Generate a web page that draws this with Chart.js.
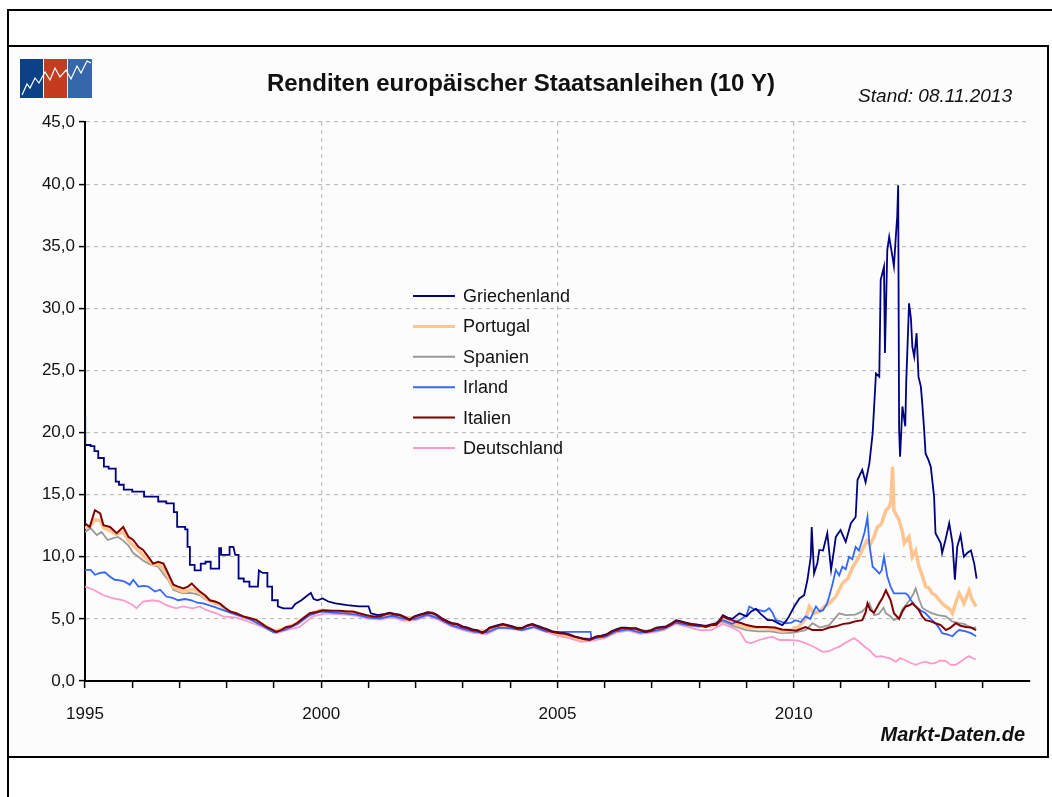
<!DOCTYPE html>
<html lang="de">
<head>
<meta charset="utf-8">
<title>Renditen europäischer Staatsanleihen (10 Y)</title>
<script src="https://cdn.jsdelivr.net/npm/chart.js@4.4.0/dist/chart.umd.min.js"></script>
<style>
html, body { margin: 0; padding: 0; background: #fff; }
#wrap { position: relative; width: 1052px; height: 797px; }
</style>
</head>
<body>
<div id="wrap"><canvas id="renditeChart" width="1052" height="797"></canvas></div>
<script>
// Rendite 10-jähriger Staatsanleihen in %, [Jahr, Wert]
const laender = ["Griechenland", "Portugal", "Spanien", "Irland", "Italien", "Deutschland"];
const labelJahre = [1995, 2000, 2005, 2010];

const griechenland = [
  [1995.00, 21.4], [1995.005, 19.0], [1995.12, 19.0], [1995.12, 18.9], [1995.20, 18.9], [1995.20, 18.5],
  [1995.28, 18.5], [1995.28, 17.95], [1995.40, 17.95], [1995.40, 17.25], [1995.50, 17.25], [1995.50, 17.1],
  [1995.65, 17.1], [1995.65, 16.05], [1995.72, 16.05], [1995.72, 15.8], [1995.82, 15.8], [1995.82, 15.4],
  [1996.00, 15.4], [1996.00, 15.25], [1996.25, 15.25], [1996.25, 14.85], [1996.55, 14.85], [1996.55, 14.45],
  [1996.72, 14.45], [1996.72, 14.3], [1996.88, 14.3], [1996.88, 13.6], [1996.95, 13.6], [1996.95, 12.4],
  [1997.12, 12.4], [1997.12, 12.2], [1997.17, 12.2], [1997.17, 10.8], [1997.22, 10.8], [1997.22, 9.35],
  [1997.32, 9.35], [1997.32, 8.9], [1997.45, 8.9], [1997.45, 9.45], [1997.55, 9.45], [1997.55, 9.6],
  [1997.66, 9.6], [1997.66, 9.05], [1997.84, 9.05], [1997.84, 10.7], [1997.88, 10.7], [1997.88, 10.15],
  [1998.06, 10.15], [1998.06, 10.8], [1998.14, 10.8], [1998.18, 10.15], [1998.25, 10.15], [1998.25, 8.25],
  [1998.36, 8.25], [1998.36, 8.0], [1998.48, 8.0], [1998.48, 7.6], [1998.66, 7.6], [1998.68, 8.9],
  [1998.76, 8.7], [1998.86, 8.7], [1998.86, 7.6], [1998.96, 7.6], [1998.96, 6.5], [1999.08, 6.5],
  [1999.08, 6.0], [1999.20, 5.85], [1999.38, 5.85], [1999.45, 6.2], [1999.58, 6.5], [1999.68, 6.8],
  [1999.78, 7.1], [1999.84, 6.6], [1999.92, 6.5], [2000.03, 6.65], [2000.15, 6.4], [2000.30, 6.25],
  [2000.55, 6.1], [2000.80, 6.0], [2001.00, 6.0], [2001.05, 5.45], [2001.20, 5.3], [2001.35, 5.4],
  [2001.45, 5.5], [2001.55, 5.4], [2001.66, 5.35], [2001.77, 5.15], [2001.87, 4.95], [2001.97, 5.2],
  [2002.08, 5.35], [2002.17, 5.45], [2002.25, 5.55], [2002.35, 5.5], [2002.44, 5.35], [2002.57, 5.0],
  [2002.68, 4.8], [2002.78, 4.65], [2002.88, 4.6], [2002.99, 4.4], [2003.10, 4.3], [2003.20, 4.15],
  [2003.30, 4.1], [2003.41, 3.9], [2003.50, 4.1], [2003.56, 4.3], [2003.70, 4.45], [2003.84, 4.6],
  [2003.95, 4.5], [2004.05, 4.4], [2004.15, 4.25], [2004.26, 4.3], [2004.37, 4.5], [2004.47, 4.6],
  [2004.57, 4.45], [2004.68, 4.3], [2004.79, 4.15], [2004.89, 4.0], [2005.04, 3.9], [2005.15, 3.85],
  [2005.25, 3.75], [2005.36, 3.6], [2005.47, 3.5], [2005.57, 3.4], [2005.68, 3.35], [2005.82, 3.6],
  [2005.93, 3.65], [2006.03, 3.75], [2006.14, 4.0], [2006.24, 4.15], [2006.35, 4.3], [2006.45, 4.3],
  [2006.55, 4.25], [2006.66, 4.25], [2006.77, 4.1], [2006.87, 4.0], [2006.98, 4.1], [2007.09, 4.3],
  [2007.20, 4.35], [2007.30, 4.4], [2007.42, 4.65], [2007.51, 4.9], [2007.62, 4.8], [2007.72, 4.7],
  [2007.83, 4.6], [2007.93, 4.55], [2008.04, 4.5], [2008.14, 4.4], [2008.25, 4.55], [2008.36, 4.6],
  [2008.44, 4.95], [2008.50, 5.3], [2008.60, 5.1], [2008.70, 5.0], [2008.85, 5.45], [2009.00, 5.2],
  [2009.10, 5.6], [2009.20, 5.8], [2009.30, 5.4], [2009.45, 4.9], [2009.55, 4.9], [2009.70, 4.6],
  [2009.76, 4.5], [2009.85, 4.9], [2009.90, 5.2], [2010.01, 6.0], [2010.12, 6.65], [2010.22, 6.9],
  [2010.29, 8.15], [2010.36, 10.0], [2010.38, 12.4], [2010.43, 8.65], [2010.50, 9.5], [2010.54, 10.55],
  [2010.62, 10.5], [2010.71, 11.9], [2010.79, 8.95], [2010.85, 10.5], [2010.89, 11.6], [2010.99, 12.15],
  [2011.10, 11.2], [2011.21, 12.7], [2011.31, 13.2], [2011.35, 16.2], [2011.45, 17.0], [2011.52, 16.0],
  [2011.60, 17.5], [2011.67, 19.95], [2011.74, 24.75], [2011.81, 24.5], [2011.84, 32.3], [2011.91, 33.35],
  [2011.93, 26.4], [2011.98, 34.7], [2012.02, 35.75], [2012.09, 34.15], [2012.12, 33.4], [2012.16, 35.75],
  [2012.19, 37.4], [2012.21, 39.9], [2012.23, 20.2], [2012.25, 18.05], [2012.30, 22.1], [2012.36, 20.5],
  [2012.38, 24.0], [2012.44, 30.4], [2012.48, 29.2], [2012.51, 26.9], [2012.55, 26.1], [2012.60, 28.0],
  [2012.64, 24.5], [2012.69, 23.7], [2012.72, 22.35], [2012.76, 20.2], [2012.79, 18.3], [2012.85, 17.8],
  [2012.90, 17.25], [2012.97, 14.85], [2013.00, 11.9], [2013.11, 11.1], [2013.14, 10.3], [2013.21, 11.35],
  [2013.29, 12.7], [2013.36, 11.1], [2013.41, 8.15], [2013.46, 10.8], [2013.53, 11.75], [2013.60, 10.0],
  [2013.67, 10.3], [2013.75, 10.5], [2013.82, 9.45], [2013.87, 8.25]
];

const portugal = [
  [1995.00, 12.3], [1995.12, 12.5], [1995.21, 13.0], [1995.32, 12.9], [1995.40, 12.3], [1995.53, 12.1],
  [1995.67, 11.8], [1995.81, 12.0], [1995.92, 11.3], [1996.02, 10.9], [1996.13, 10.5], [1996.23, 10.1],
  [1996.34, 9.7], [1996.45, 9.4], [1996.55, 9.4], [1996.66, 9.0], [1996.76, 8.4], [1996.87, 7.55],
  [1996.97, 7.35], [1997.08, 7.2], [1997.20, 7.3], [1997.30, 7.4], [1997.43, 7.05], [1997.54, 6.75],
  [1997.64, 6.45], [1997.75, 6.3], [1997.85, 6.15], [1997.96, 5.85], [1998.07, 5.55], [1998.20, 5.4],
  [1998.35, 5.15], [1998.50, 5.0], [1998.75, 4.55], [1999.00, 4.0], [1999.25, 4.25], [1999.50, 4.65],
  [1999.75, 5.4], [2000.00, 5.7], [2000.25, 5.6], [2000.50, 5.55], [2000.75, 5.45], [2001.00, 5.2],
  [2001.25, 5.15], [2001.50, 5.35], [2001.75, 5.1], [2002.00, 5.1], [2002.25, 5.45], [2002.50, 5.1],
  [2002.75, 4.6], [2003.00, 4.3], [2003.25, 4.05], [2003.50, 4.0], [2003.75, 4.4], [2004.00, 4.35],
  [2004.25, 4.2], [2004.50, 4.45], [2004.75, 4.1], [2005.00, 3.85], [2005.25, 3.65], [2005.50, 3.35],
  [2005.75, 3.4], [2006.00, 3.6], [2006.25, 4.05], [2006.50, 4.2], [2006.75, 4.0], [2007.00, 4.05],
  [2007.25, 4.25], [2007.50, 4.75], [2007.75, 4.55], [2008.00, 4.4], [2008.25, 4.45], [2008.50, 5.0],
  [2008.75, 4.6], [2009.00, 4.3], [2009.25, 4.3], [2009.50, 4.25], [2009.75, 4.0], [2009.95, 4.1],
  [2010.10, 4.35], [2010.25, 5.0], [2010.33, 6.0], [2010.43, 5.45], [2010.55, 5.6], [2010.65, 6.0],
  [2010.75, 6.25], [2010.89, 6.8], [2011.03, 7.85], [2011.15, 8.3], [2011.25, 9.2], [2011.35, 9.8],
  [2011.45, 10.55], [2011.55, 11.3], [2011.62, 11.0], [2011.70, 11.6], [2011.77, 12.4], [2011.85, 12.6],
  [2011.95, 13.75], [2012.02, 14.0], [2012.06, 14.5], [2012.09, 17.25], [2012.12, 13.75], [2012.18, 13.3],
  [2012.23, 12.95], [2012.30, 12.0], [2012.34, 11.1], [2012.44, 11.6], [2012.51, 10.0], [2012.58, 10.5],
  [2012.65, 9.2], [2012.72, 8.5], [2012.79, 7.6], [2012.86, 7.5], [2012.93, 7.05], [2013.00, 6.9],
  [2013.08, 6.5], [2013.15, 6.2], [2013.22, 6.0], [2013.30, 5.8], [2013.36, 5.45], [2013.42, 6.2],
  [2013.50, 7.05], [2013.55, 6.7], [2013.60, 6.25], [2013.66, 6.8], [2013.71, 7.3], [2013.77, 6.6],
  [2013.82, 6.25], [2013.86, 6.0]
];

const spanien = [
  [1995.00, 12.0], [1995.12, 12.3], [1995.25, 11.75], [1995.35, 12.0], [1995.48, 11.35], [1995.60, 11.5],
  [1995.70, 11.6], [1995.81, 11.3], [1995.92, 10.9], [1996.02, 10.3], [1996.13, 10.0], [1996.23, 9.7],
  [1996.34, 9.45], [1996.45, 9.3], [1996.55, 9.2], [1996.66, 8.6], [1996.76, 8.15], [1996.87, 7.35],
  [1996.97, 7.2], [1997.08, 7.05], [1997.20, 7.1], [1997.30, 7.05], [1997.43, 6.9], [1997.54, 6.6],
  [1997.64, 6.4], [1997.75, 6.2], [1997.85, 6.1], [1997.96, 5.8], [1998.07, 5.5], [1998.20, 5.35],
  [1998.35, 5.1], [1998.50, 4.95], [1998.75, 4.5], [1999.00, 3.95], [1999.25, 4.2], [1999.50, 4.6],
  [1999.75, 5.3], [2000.00, 5.6], [2000.25, 5.55], [2000.50, 5.5], [2000.75, 5.4], [2001.00, 5.15],
  [2001.25, 5.1], [2001.50, 5.3], [2001.75, 5.05], [2002.00, 5.05], [2002.25, 5.4], [2002.50, 5.05],
  [2002.75, 4.55], [2003.00, 4.25], [2003.25, 4.0], [2003.50, 3.95], [2003.75, 4.35], [2004.00, 4.3],
  [2004.25, 4.15], [2004.50, 4.4], [2004.75, 4.05], [2005.00, 3.8], [2005.25, 3.6], [2005.50, 3.3],
  [2005.75, 3.35], [2006.00, 3.55], [2006.25, 4.0], [2006.50, 4.15], [2006.75, 3.95], [2007.00, 4.0],
  [2007.25, 4.2], [2007.50, 4.7], [2007.75, 4.5], [2008.00, 4.35], [2008.25, 4.4], [2008.50, 4.8],
  [2008.75, 4.4], [2009.00, 4.1], [2009.25, 4.0], [2009.50, 4.0], [2009.75, 3.85], [2010.00, 3.9],
  [2010.25, 4.1], [2010.40, 4.65], [2010.55, 4.3], [2010.75, 4.5], [2010.96, 5.45], [2011.10, 5.3],
  [2011.30, 5.35], [2011.45, 5.6], [2011.55, 6.0], [2011.60, 6.25], [2011.70, 5.3], [2011.80, 5.4],
  [2011.90, 5.9], [2011.95, 5.45], [2012.05, 5.2], [2012.12, 4.9], [2012.23, 5.1], [2012.30, 5.8],
  [2012.37, 6.1], [2012.45, 6.5], [2012.53, 7.0], [2012.58, 7.45], [2012.65, 6.6], [2012.72, 5.9],
  [2012.80, 5.7], [2012.93, 5.45], [2013.05, 5.3], [2013.22, 5.2], [2013.35, 4.8], [2013.50, 4.65],
  [2013.60, 4.6], [2013.75, 4.3], [2013.86, 4.3]
];

const irland = [
  [1995.00, 8.95], [1995.12, 8.95], [1995.21, 8.55], [1995.32, 8.7], [1995.42, 8.75], [1995.53, 8.4],
  [1995.63, 8.15], [1995.74, 8.1], [1995.84, 8.0], [1995.95, 7.75], [1996.02, 8.15], [1996.13, 7.6],
  [1996.25, 7.65], [1996.34, 7.6], [1996.48, 7.2], [1996.59, 7.35], [1996.72, 6.8], [1996.85, 6.7],
  [1996.97, 6.5], [1997.12, 6.6], [1997.25, 6.5], [1997.38, 6.3], [1997.50, 6.25], [1997.62, 6.1],
  [1997.75, 5.95], [1997.85, 5.8], [1998.00, 5.6], [1998.20, 5.35], [1998.35, 5.15], [1998.50, 4.95],
  [1998.75, 4.45], [1999.00, 3.9], [1999.25, 4.15], [1999.50, 4.6], [1999.75, 5.3], [2000.00, 5.6],
  [2000.25, 5.5], [2000.50, 5.45], [2000.75, 5.35], [2001.00, 5.1], [2001.25, 5.05], [2001.50, 5.25],
  [2001.75, 5.0], [2002.00, 5.0], [2002.25, 5.35], [2002.50, 5.0], [2002.75, 4.5], [2003.00, 4.2],
  [2003.25, 3.95], [2003.50, 3.9], [2003.75, 4.3], [2004.00, 4.25], [2004.25, 4.1], [2004.50, 4.35],
  [2004.75, 4.0], [2005.00, 3.95], [2005.70, 3.95], [2005.72, 3.35], [2005.85, 3.5], [2006.00, 3.55],
  [2006.25, 4.0], [2006.50, 4.15], [2006.75, 3.9], [2007.00, 4.0], [2007.25, 4.2], [2007.50, 4.7],
  [2007.75, 4.5], [2008.00, 4.4], [2008.25, 4.5], [2008.50, 4.9], [2008.70, 4.6], [2008.85, 4.9],
  [2009.00, 5.3], [2009.06, 6.0], [2009.15, 5.8], [2009.27, 5.7], [2009.38, 5.6], [2009.48, 5.85],
  [2009.55, 5.5], [2009.62, 4.9], [2009.72, 4.8], [2009.83, 4.65], [2009.95, 4.7], [2010.04, 4.9],
  [2010.15, 4.75], [2010.25, 5.2], [2010.35, 5.0], [2010.47, 6.0], [2010.55, 5.6], [2010.62, 5.7],
  [2010.70, 6.2], [2010.75, 6.8], [2010.82, 7.8], [2010.89, 8.95], [2010.96, 8.5], [2011.03, 9.2],
  [2011.10, 9.0], [2011.17, 10.0], [2011.24, 9.8], [2011.31, 10.8], [2011.38, 10.5], [2011.45, 11.35],
  [2011.50, 12.0], [2011.56, 13.2], [2011.60, 11.0], [2011.67, 9.2], [2011.75, 8.9], [2011.81, 8.65],
  [2011.86, 8.9], [2011.91, 10.0], [2011.98, 8.4], [2012.05, 7.6], [2012.12, 7.05], [2012.25, 7.05],
  [2012.37, 7.05], [2012.42, 6.9], [2012.48, 6.5], [2012.58, 6.0], [2012.68, 5.7], [2012.79, 5.45],
  [2012.90, 5.0], [2013.00, 4.65], [2013.07, 4.3], [2013.14, 3.85], [2013.25, 3.75], [2013.36, 3.6],
  [2013.43, 3.9], [2013.50, 4.1], [2013.64, 4.0], [2013.75, 3.85], [2013.86, 3.6]
];

const italien = [
  [1995.00, 12.7], [1995.10, 12.4], [1995.21, 13.75], [1995.32, 13.5], [1995.39, 12.55], [1995.53, 12.4],
  [1995.67, 11.9], [1995.81, 12.4], [1995.92, 11.6], [1996.02, 11.35], [1996.13, 10.8], [1996.23, 10.55],
  [1996.34, 10.0], [1996.44, 9.45], [1996.55, 9.6], [1996.66, 9.45], [1996.76, 8.65], [1996.87, 7.75],
  [1996.97, 7.6], [1997.08, 7.45], [1997.18, 7.6], [1997.26, 7.85], [1997.35, 7.5], [1997.43, 7.2],
  [1997.54, 6.9], [1997.64, 6.5], [1997.75, 6.4], [1997.85, 6.25], [1997.96, 5.9], [1998.07, 5.6],
  [1998.20, 5.45], [1998.35, 5.2], [1998.50, 5.05], [1998.63, 4.9], [1998.75, 4.6], [1998.84, 4.35],
  [1998.95, 4.15], [1999.05, 3.95], [1999.15, 4.1], [1999.26, 4.35], [1999.37, 4.4], [1999.48, 4.65],
  [1999.60, 5.0], [1999.76, 5.45], [1999.90, 5.55], [2000.03, 5.7], [2000.20, 5.65], [2000.39, 5.65],
  [2000.55, 5.6], [2000.67, 5.6], [2000.80, 5.45], [2000.96, 5.3], [2001.10, 5.2], [2001.24, 5.2],
  [2001.35, 5.35], [2001.45, 5.45], [2001.55, 5.35], [2001.66, 5.3], [2001.77, 5.1], [2001.87, 4.9],
  [2001.97, 5.15], [2002.08, 5.3], [2002.17, 5.4], [2002.25, 5.5], [2002.35, 5.45], [2002.44, 5.3],
  [2002.57, 4.95], [2002.68, 4.75], [2002.78, 4.6], [2002.88, 4.55], [2002.99, 4.35], [2003.10, 4.25],
  [2003.20, 4.1], [2003.30, 4.05], [2003.41, 3.85], [2003.50, 4.05], [2003.56, 4.25], [2003.70, 4.4],
  [2003.84, 4.55], [2003.95, 4.45], [2004.05, 4.35], [2004.15, 4.2], [2004.26, 4.25], [2004.37, 4.45],
  [2004.47, 4.55], [2004.57, 4.4], [2004.68, 4.25], [2004.79, 4.1], [2004.89, 3.95], [2005.04, 3.85],
  [2005.15, 3.8], [2005.25, 3.7], [2005.36, 3.55], [2005.47, 3.45], [2005.57, 3.35], [2005.68, 3.3],
  [2005.82, 3.55], [2005.93, 3.6], [2006.03, 3.7], [2006.14, 3.95], [2006.24, 4.1], [2006.35, 4.25],
  [2006.45, 4.25], [2006.55, 4.2], [2006.66, 4.2], [2006.77, 4.05], [2006.87, 3.95], [2006.98, 4.05],
  [2007.09, 4.25], [2007.20, 4.3], [2007.30, 4.35], [2007.42, 4.6], [2007.51, 4.85], [2007.62, 4.75],
  [2007.72, 4.65], [2007.83, 4.55], [2007.93, 4.5], [2008.04, 4.45], [2008.14, 4.35], [2008.25, 4.5],
  [2008.36, 4.5], [2008.44, 4.85], [2008.50, 5.2], [2008.60, 5.0], [2008.70, 4.9], [2008.80, 4.75],
  [2008.90, 4.65], [2009.00, 4.5], [2009.20, 4.35], [2009.40, 4.35], [2009.60, 4.3], [2009.75, 4.15],
  [2009.90, 4.1], [2010.05, 4.05], [2010.25, 4.35], [2010.40, 4.1], [2010.60, 4.1], [2010.75, 4.3],
  [2010.89, 4.4], [2011.05, 4.6], [2011.17, 4.65], [2011.30, 4.8], [2011.45, 4.9], [2011.52, 5.5],
  [2011.56, 6.25], [2011.62, 5.7], [2011.70, 5.5], [2011.81, 6.25], [2011.88, 6.7], [2011.95, 7.3],
  [2012.00, 6.9], [2012.05, 6.5], [2012.12, 5.45], [2012.23, 5.0], [2012.30, 5.6], [2012.37, 6.0],
  [2012.45, 6.1], [2012.51, 6.25], [2012.58, 6.0], [2012.65, 5.7], [2012.72, 5.2], [2012.79, 4.9],
  [2012.90, 4.8], [2013.00, 4.65], [2013.11, 4.5], [2013.22, 4.1], [2013.32, 4.3], [2013.43, 4.65],
  [2013.53, 4.45], [2013.64, 4.35], [2013.75, 4.3], [2013.86, 4.1]
];

const deutschland = [
  [1995.00, 7.6], [1995.18, 7.35], [1995.39, 6.9], [1995.60, 6.65], [1995.81, 6.5], [1996.02, 6.1],
  [1996.09, 5.85], [1996.23, 6.4], [1996.44, 6.5], [1996.59, 6.4], [1996.72, 6.1], [1996.93, 5.85],
  [1997.07, 6.0], [1997.28, 5.85], [1997.43, 6.0], [1997.57, 5.7], [1997.78, 5.45], [1997.92, 5.2],
  [1998.20, 5.1], [1998.48, 4.75], [1998.76, 4.35], [1999.05, 3.85], [1999.26, 4.1], [1999.54, 4.35],
  [1999.82, 5.2], [2000.11, 5.45], [2000.25, 5.4], [2000.50, 5.35], [2000.75, 5.25], [2001.00, 5.0],
  [2001.25, 4.95], [2001.50, 5.15], [2001.75, 4.85], [2002.00, 4.9], [2002.25, 5.25], [2002.50, 4.9],
  [2002.75, 4.4], [2003.00, 4.1], [2003.25, 3.85], [2003.50, 3.75], [2003.75, 4.25], [2004.00, 4.2],
  [2004.25, 4.05], [2004.50, 4.3], [2004.75, 3.95], [2005.00, 3.65], [2005.25, 3.45], [2005.50, 3.15],
  [2005.75, 3.25], [2006.00, 3.45], [2006.25, 3.9], [2006.50, 4.05], [2006.75, 3.8], [2007.00, 3.9],
  [2007.25, 4.1], [2007.50, 4.6], [2007.75, 4.35], [2008.00, 4.1], [2008.25, 4.1], [2008.50, 4.6],
  [2008.70, 4.3], [2008.85, 4.0], [2008.99, 3.15], [2009.10, 3.05], [2009.27, 3.3], [2009.45, 3.5],
  [2009.55, 3.55], [2009.70, 3.3], [2009.90, 3.3], [2010.10, 3.25], [2010.25, 3.05], [2010.40, 2.8],
  [2010.50, 2.6], [2010.61, 2.35], [2010.75, 2.4], [2010.85, 2.6], [2010.96, 2.75], [2011.10, 3.1],
  [2011.28, 3.45], [2011.40, 3.1], [2011.52, 2.7], [2011.60, 2.5], [2011.67, 2.2], [2011.74, 1.95],
  [2011.85, 2.0], [2011.95, 1.9], [2012.05, 1.8], [2012.16, 1.55], [2012.25, 1.85], [2012.37, 1.65],
  [2012.48, 1.45], [2012.58, 1.3], [2012.68, 1.45], [2012.79, 1.55], [2012.90, 1.4], [2013.00, 1.45],
  [2013.10, 1.65], [2013.22, 1.6], [2013.32, 1.3], [2013.43, 1.3], [2013.55, 1.6], [2013.64, 1.85],
  [2013.71, 2.0], [2013.78, 1.85], [2013.86, 1.75]
];

const reihen = [griechenland, portugal, spanien, irland, italien, deutschland];
const farben = ["#000080", "#FFC591", "#999999", "#3366FF", "#800000", "#FF99CC"];
const breiten = [1.8, 3.5, 1.8, 1.8, 2, 1.8];
const zeichenFolge = [1, 3, 4, 2, 0, 5];

const rahmenPlugin = {
  id: 'rahmen',
  beforeDraw(chart) {
    const ctx = chart.ctx;
    ctx.save();
    ctx.fillStyle = '#ffffff';
    ctx.fillRect(0, 0, chart.width, chart.height);
    ctx.fillStyle = '#fcfcfc';
    ctx.fillRect(9, 47, 1038, 709);
    ctx.strokeStyle = '#000';
    ctx.lineWidth = 2;
    ctx.beginPath();
    ctx.moveTo(8, 797); ctx.lineTo(8, 10); ctx.lineTo(1052, 10);
    ctx.moveTo(8, 46); ctx.lineTo(1048, 46); ctx.lineTo(1048, 757); ctx.lineTo(8, 757);
    ctx.stroke();

    // logo
    ctx.fillStyle = '#0d4187'; ctx.fillRect(20, 59, 23, 39);
    ctx.fillStyle = '#c33c20'; ctx.fillRect(44, 59, 23, 39);
    ctx.fillStyle = '#3568aa'; ctx.fillRect(68, 59, 24, 39);
    ctx.strokeStyle = '#ffffff';
    ctx.lineWidth = 1.2;
    ctx.beginPath();
    ctx.moveTo(22, 95); ctx.lineTo(27, 84); ctx.lineTo(30, 88); ctx.lineTo(35, 78);
    ctx.lineTo(39, 83); ctx.lineTo(45, 72); ctx.lineTo(50, 80); ctx.lineTo(55, 68);
    ctx.lineTo(60, 77); ctx.lineTo(66, 70); ctx.lineTo(71, 79); ctx.lineTo(77, 66);
    ctx.lineTo(81, 73); ctx.lineTo(87, 61); ctx.lineTo(91, 63);
    ctx.stroke();
    ctx.restore();
  },
  afterDraw(chart) {
    const ctx = chart.ctx;
    ctx.save();
    ctx.fillStyle = '#111';
    ctx.textBaseline = 'middle';
    ctx.textAlign = 'center';
    ctx.font = 'bold 24px "Liberation Sans", Arial, sans-serif';
    ctx.fillText('Renditen europäischer Staatsanleihen (10 Y)', 521, 84);
    ctx.textAlign = 'right';
    ctx.font = 'italic 19px "Liberation Sans", Arial, sans-serif';
    ctx.fillText('Stand: 08.11.2013', 1012, 97);
    ctx.font = 'bold italic 20px "Liberation Sans", Arial, sans-serif';
    ctx.fillText('Markt-Daten.de', 1025, 735);

    // Legende
    ctx.textAlign = 'left';
    ctx.font = '18px "Liberation Sans", Arial, sans-serif';
    chart.data.datasets.forEach((ds, i) => {
      const y = 296 + i * 30.4;
      ctx.strokeStyle = ds.borderColor;
      ctx.lineWidth = Math.max(2, ds.borderWidth - 0.5);
      ctx.beginPath();
      ctx.moveTo(413, y); ctx.lineTo(455, y);
      ctx.stroke();
      ctx.fillStyle = '#111';
      ctx.fillText(ds.label, 463, y + 1);
    });
    ctx.restore();
  }
};

new Chart("renditeChart", {
  type: "line",
  data: {
    datasets: laender.map((name, i) => ({
      label: name,
      data: reihen[i].map(p => ({ x: p[0], y: p[1] })),
      borderColor: farben[i],
      borderWidth: breiten[i],
      pointRadius: 0,
      tension: 0,
      order: zeichenFolge[i]
    }))
  },
  options: {
    responsive: false,
    animation: false,
    devicePixelRatio: 1,
    layout: { padding: { left: 10, right: 22, top: 122, bottom: 76 } },
    plugins: {
      legend: { display: false },
      tooltip: { enabled: false },
      title: { display: false }
    },
    scales: {
      x: {
        type: "linear",
        min: 1995,
        max: 2015,
        afterFit: s => { s.height = 40; },
        ticks: {
          stepSize: 1,
          autoSkip: false,
          maxRotation: 0,
          padding: 16,
          color: '#111',
          font: { family: '"Liberation Sans", Arial, sans-serif', size: 17 },
          callback: v => labelJahre.includes(v) ? String(v) : ''
        },
        grid: {
          color: ctx => (ctx.tick && labelJahre.includes(ctx.tick.value) && ctx.tick.value !== 1995) ? '#bdbdbd' : 'rgba(0,0,0,0)',
          tickColor: ctx => (ctx.tick && ctx.tick.value === 2015) ? 'rgba(0,0,0,0)' : '#000',
          tickLength: 7,
          tickWidth: 1.5,
          lineWidth: 1.2
        },
        border: { color: '#000', width: 2, dash: [4, 4] }
      },
      y: {
        min: 0,
        max: 45,
        afterFit: s => { s.width = 75; },
        ticks: {
          stepSize: 5,
          padding: 4,
          color: '#111',
          font: { family: '"Liberation Sans", Arial, sans-serif', size: 17 },
          callback: v => v.toFixed(1).replace('.', ',')
        },
        grid: {
          color: ctx => (ctx.tick && ctx.tick.value === 0) ? 'rgba(0,0,0,0)' : '#bdbdbd',
          tickColor: '#000',
          tickLength: 6,
          tickWidth: 1.5,
          lineWidth: 1.2
        },
        border: { color: '#000', width: 2, dash: [4, 4] }
      }
    }
  },
  plugins: [rahmenPlugin]
});
</script>
</body>
</html>
